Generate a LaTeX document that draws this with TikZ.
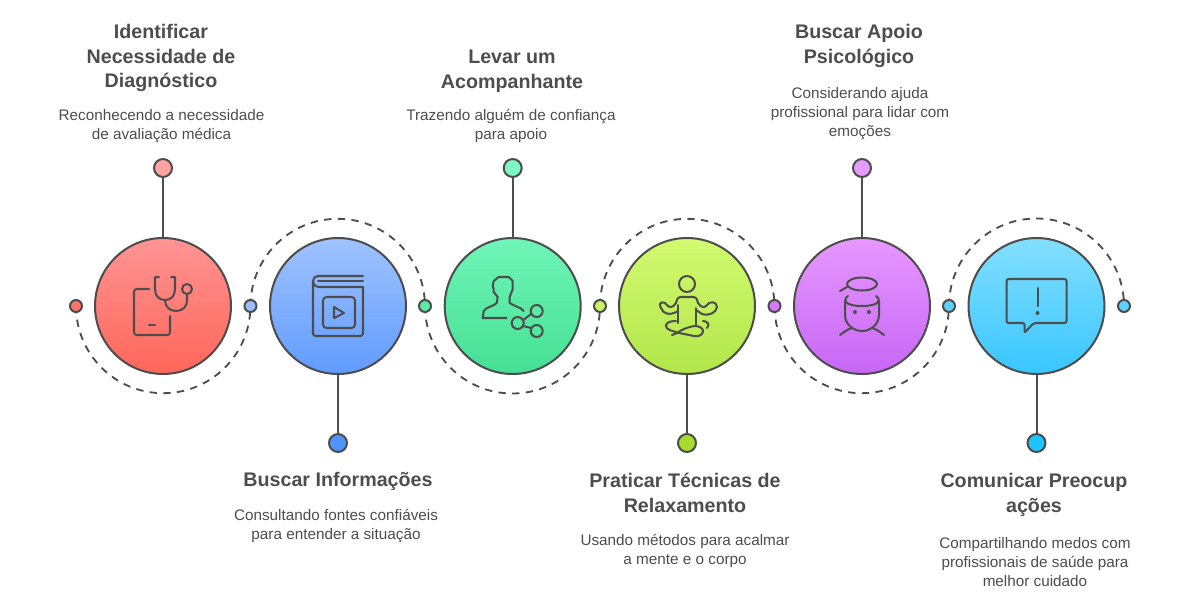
\documentclass[tikz,border=0pt]{standalone}
\usepackage{fontspec}
\setmainfont{Liberation Sans}
\usetikzlibrary{backgrounds}
\definecolor{ink}{HTML}{4D4D4D}
\definecolor{redtop}{HTML}{FF9494}
\definecolor{redbot}{HTML}{FF6659}
\definecolor{bluetop}{HTML}{A0C2FF}
\definecolor{bluebot}{HTML}{609CFF}
\definecolor{greentop}{HTML}{70F5B8}
\definecolor{greenbot}{HTML}{45E094}
\definecolor{limetop}{HTML}{D2FA70}
\definecolor{limebot}{HTML}{B2E64A}
\definecolor{purptop}{HTML}{E698FF}
\definecolor{purpbot}{HTML}{C766F5}
\definecolor{cyantop}{HTML}{84DFFF}
\definecolor{cyanbot}{HTML}{38C6FF}
\definecolor{endred}{HTML}{FFA3A3}
\definecolor{endblue}{HTML}{4F93FF}
\definecolor{endgreen}{HTML}{7FF7C0}
\definecolor{endlime}{HTML}{A6DB2F}
\definecolor{endpurp}{HTML}{E49BFF}
\definecolor{endcyan}{HTML}{1EC4FF}
\begin{document}
\begin{tikzpicture}[
  x=0.02cm, y=-0.02cm,
  bigc/.style={circle, draw=ink, line width=1.15pt, minimum size=2.72cm, inner sep=0pt},
  smalldot/.style={circle, draw=ink, line width=1.15pt, minimum size=0.24cm, inner sep=0pt},
  enddot/.style={circle, draw=ink, line width=1.15pt, minimum size=0.36cm, inner sep=0pt},
  stem/.style={draw=ink, line width=1.15pt},
  dashline/.style={draw=ink, line width=1.05pt, dash pattern=on 4.2pt off 3.6pt},
  icon/.style={draw=ink, line width=1.15pt, line cap=round, line join=round},
  ttl/.style={font=\fontsize{11.2}{14.17}\selectfont\bfseries, text=ink, align=center},
  dsc/.style={font=\fontsize{8.7}{10.8}\selectfont, text=ink, align=center},
]
\useasboundingbox (0,0) rectangle (1200,606);

% --- main circles ---
\node[bigc, top color=redtop, bottom color=redbot] (c1) at (163,306) {};
\node[bigc, top color=bluetop, bottom color=bluebot] (c2) at (338,306) {};
\node[bigc, top color=greentop, bottom color=greenbot] (c3) at (512.7,306) {};
\node[bigc, top color=limetop, bottom color=limebot] (c4) at (687,306) {};
\node[bigc, top color=purptop, bottom color=purpbot] (c5) at (862,306) {};
\node[bigc, top color=cyantop, bottom color=cyanbot] (c6) at (1036.5,306) {};

% --- dots on the centre line ---
\node[smalldot, fill=redbot!90!white] (d1) at (76,306) {};
\node[smalldot, fill=bluetop!90!bluebot] (d2) at (250.5,306) {};
\node[smalldot, fill=greentop!50!greenbot] (d3) at (425,306) {};
\node[smalldot, fill=limetop!70!limebot] (d4) at (600,306) {};
\node[smalldot, fill=purptop!40!purpbot] (d5) at (774.5,306) {};
\node[smalldot, fill=cyantop!50!cyanbot] (d6) at (949,306) {};
\node[smalldot, fill=cyantop!50!cyanbot] (d7) at (1124,306) {};

% dashed arcs between the dots
\begin{scope}[on background layer]
\draw[dashline] (d1.center) arc[start angle=180, end angle=0, radius=87.2];
\draw[dashline] (d2.center) arc[start angle=180, end angle=360, radius=87.2];
\draw[dashline] (d3.center) arc[start angle=180, end angle=0, radius=87.5];
\draw[dashline] (d4.center) arc[start angle=180, end angle=360, radius=87.2];
\draw[dashline] (d5.center) arc[start angle=180, end angle=0, radius=87.2];
\draw[dashline] (d6.center) arc[start angle=180, end angle=360, radius=87.5];
\end{scope}

% --- stems ---
\node[enddot, fill=endred] (e1) at (163,168) {};
\node[enddot, fill=endblue] (e2) at (338,443) {};
\node[enddot, fill=endgreen] (e3) at (512.7,168) {};
\node[enddot, fill=endlime] (e4) at (687,443) {};
\node[enddot, fill=endpurp] (e5) at (862,168) {};
\node[enddot, fill=endcyan] (e6) at (1036.5,443) {};
\draw[stem] (e1) -- (c1);
\draw[stem] (c2) -- (e2);
\draw[stem] (e3) -- (c3);
\draw[stem] (c4) -- (e4);
\draw[stem] (e5) -- (c5);
\draw[stem] (c6) -- (e6);

% --- labels ---
\node[ttl] (t1) at (161,58) {Identificar\\Necessidade de\\Diagnóstico};
\node[dsc] (s1) at (161.5,126) {Reconhecendo a necessidade\\de avaliação médica};
\node[ttl] (t2) at (338,481) {Buscar Informações};
\node[dsc] (s2) at (336,526) {Consultando fontes confiáveis\\para entender a situação};
\node[ttl] (t3) at (512,71) {Levar um\\Acompanhante};
\node[dsc] (s3) at (511,126) {Trazendo alguém de confiança\\para apoio};
\node[ttl] (t4) at (685,493) {Praticar Técnicas de\\Relaxamento};
\node[dsc] (s4) at (685,551) {Usando métodos para acalmar\\a mente e o corpo};
\node[ttl] (t5) at (859,46) {Buscar Apoio\\Psicológico};
\node[dsc] (s5) at (860,114) {Considerando ajuda\\profissional para lidar com\\emoções};
\node[ttl] (t6) at (1034,494.5) {Comunicar Preocup\\ações};
\node[dsc] (s6) at (1035,562) {Compartilhando medos com\\profissionais de saúde para\\melhor cuidado};

% --- icons ---
\begin{scope}[shift={(c1.center)}, icon]
\draw[rounded corners=1.5pt] (-14,-17) -- (-29,-17) -- (-29,29) -- (7,29) -- (7,10);
\draw (-14,19) -- (-8,19);
\draw (-4,-29) -- (-8,-29) -- (-8,-17) .. controls (-8,-10) and (-4,-6) .. (2,-6) .. controls (8,-6) and (12,-10) .. (12,-17) -- (12,-29) -- (8,-29);
\draw (2,-6) .. controls (2,1) and (7,5) .. (13,5) .. controls (20,5) and (24,0) .. (24,-5) -- (24,-12);
\draw (24,-17) circle[radius=5];
\end{scope}

\begin{scope}[shift={(c2.center)}, icon]
\draw (25,-30) -- (-20,-30) .. controls (-23,-30) and (-25,-28) .. (-25,-25) -- (-25,28) -- (-23,30) -- (23,30) -- (25,28) -- (25,-19) -- (-20,-19) .. controls (-23,-19) and (-25,-22) .. (-25,-25);
\draw (-20,-25) -- (25,-25);
\draw[rounded corners=2pt] (-15,-9) rectangle (17,22);
\draw (-4,1) -- (-4,12) -- (6,7) -- cycle;
\end{scope}

\begin{scope}[shift={(c3.center)}, icon]
\draw (-6,12) -- (-30,12) -- (-29,5) .. controls (-27,1) and (-18,0) .. (-16,-3) -- (-15,-9) -- (-19,-14) -- (-19,-17) -- (-20,-20) -- (-19,-25) -- (-14,-29) -- (-4,-29) -- (0,-25) -- (0,-17) -- (-3,-9) -- (-3,-3) .. controls (1,0) and (8,1) .. (11,5);
\draw (5,17) circle[radius=6];
\draw (24,5) circle[radius=6];
\draw (24,25) circle[radius=6];
\draw (10.5,14) -- (18.5,8);
\draw (10.5,20) -- (18.5,22);
\end{scope}

\begin{scope}[shift={(c4.center)}, icon]
\draw (0,-22) circle[radius=8];
\draw (-26,2) .. controls (-30,-5) and (-22,-5) .. (-20,-1) .. controls (-18,2) and (-14,2) .. (-11,-3) .. controls (-10,-7) and (-9,-9) .. (-7,-9) -- (7,-9) .. controls (9,-9) and (10,-7) .. (11,-3) .. controls (14,2) and (18,2) .. (20,-1) .. controls (22,-5) and (30,-5) .. (30,1) .. controls (29,7) and (22,10) .. (15,8) -- (9,4);
\draw (-26,2) .. controls (-24,8) and (-17,10) .. (-9,5);
\draw (-9,-1) -- (-9,17);
\draw (9,2) -- (9,20);
\draw (-11,15) .. controls (-18,15) and (-21,17) .. (-21,20) .. controls (-21,24) and (-14,25) .. (-8,27) -- (7,30) .. controls (13,31) and (16,28) .. (16,25) .. controls (16,22) and (12,20) .. (8,20) .. controls (0,21) and (-6,24) .. (-10,27) -- (-15,29);
\draw (16,15) .. controls (21,15) and (23,19) .. (20,22);
\end{scope}

\begin{scope}[shift={(c5.center)}, icon]
\draw (0,-22) ellipse[x radius=15, y radius=6.5];
\draw (-15,-19) -- (-22,-15);
\draw (-14,-10) .. controls (-20,-6) and (-17,0) .. (0,0) .. controls (17,0) and (20,-6) .. (14,-10);
\draw (-17,-5) -- (-17,9) .. controls (-17,18) and (-9,25) .. (0,25) .. controls (9,25) and (17,18) .. (17,9) -- (17,-5);
\fill[ink] (-7,6) circle[radius=2];
\fill[ink] (7,6) circle[radius=2];
\draw (-22,29) .. controls (-18,26) and (-14,23) .. (-10,22);
\draw (10,22) .. controls (14,23) and (18,26) .. (22,29);
\end{scope}

\begin{scope}[shift={(c6.center)}, icon]
\draw[rounded corners=1.2pt] (-3,17) -- (30,17) -- (30,-27) -- (-30,-27) -- (-30,17) -- (-12,17) -- (-12,27) -- cycle;
\draw (1,-18) -- (1,0);
\fill[ink] (1,7) circle[radius=2];
\end{scope}
\end{tikzpicture}
\end{document}
